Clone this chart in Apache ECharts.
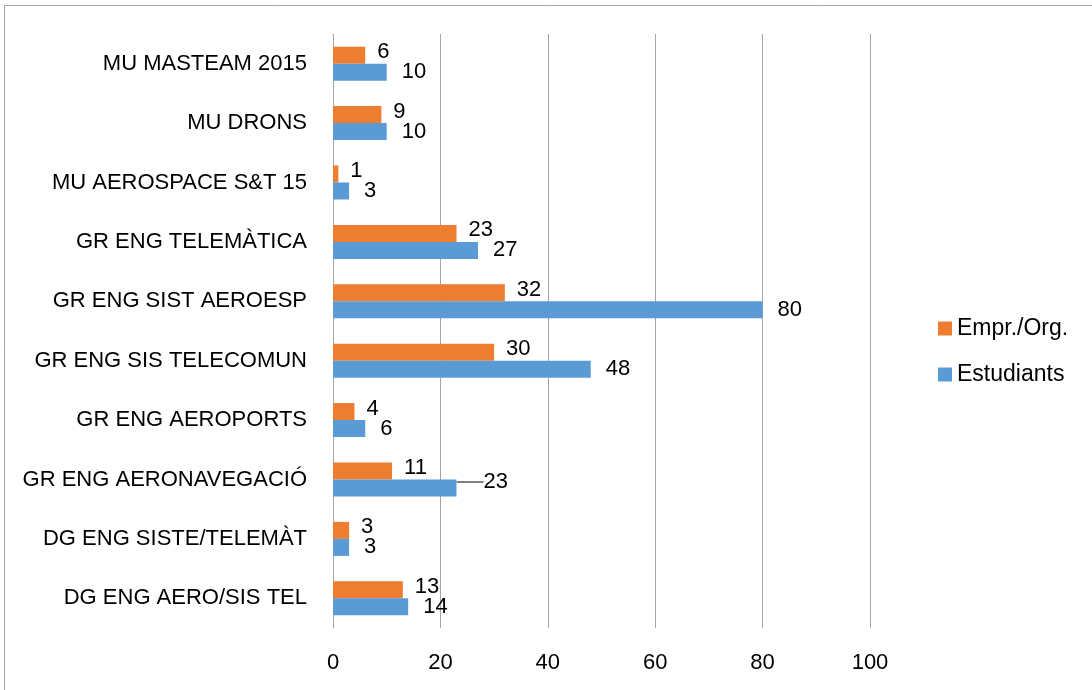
<!DOCTYPE html>
<html>
<head>
<meta charset="utf-8">
<script src="https://cdn.jsdelivr.net/npm/echarts@6/dist/echarts.min.js"></script>
<style>
  html, body { margin: 0; padding: 0; background: #fff; }
  #chart { width: 1092px; height: 690px; }
</style>
</head>
<body>
<div id="chart"></div>
<script>
// categories, bottom to top
const categories = [
  'DG ENG AERO/SIS TEL',
  'DG ENG SISTE/TELEMÀT',
  'GR ENG AERONAVEGACIÓ',
  'GR ENG AEROPORTS',
  'GR ENG SIS TELECOMUN',
  'GR ENG SIST AEROESP',
  'GR ENG TELEMÀTICA',
  'MU AEROSPACE S&T 15',
  'MU DRONS',
  'MU MASTEAM 2015'
];
const emprOrg = [13, 3, 11, 4, 30, 32, 23, 1, 9, 6];
const estudiants = [14, 3, 23, 6, 48, 80, 27, 3, 10, 10];
const xTicks = [0, 20, 40, 60, 80, 100];

const FONT = 'Liberation Sans';

const chart = echarts.init(document.getElementById('chart'));

function labelStyle(dy, dist) {
  return {
    show: true,
    position: 'right',
    distance: dist,
    offset: [0, dy],
    color: '#000',
    fontSize: 22,
    fontFamily: FONT
  };
}

// the label of GR ENG AERONAVEGACIÓ is pushed right with a leader line
const movedLabel = 2;
const estudiantsData = estudiants.map(function (v, i) {
  if (i === movedLabel) {
    return { value: v, labelLine: { show: true, lineStyle: { color: '#000', width: 1 } } };
  }
  return v;
});

chart.setOption({
  animation: false,
  textStyle: { fontFamily: FONT },
  graphic: [{
    type: 'rect',
    shape: { x: 4.5, y: 5.5, width: 1100, height: 700 },
    style: { fill: 'none', stroke: '#a6a6a6', lineWidth: 1 }
  }],
  grid: { left: 333, right: 222, top: 34, bottom: 62 },
  legend: {
    data: ['Empr./Org.', 'Estudiants'],
    orient: 'vertical',
    left: 933,
    top: 312,
    itemWidth: 14,
    itemHeight: 14,
    itemGap: 23,
    icon: 'rect',
    textStyle: { fontSize: 23, color: '#000', fontFamily: FONT, padding: [0, 0, 0, 0] }
  },
  xAxis: {
    type: 'value',
    min: xTicks[0],
    max: xTicks[xTicks.length - 1],
    interval: 20,
    axisLine: { show: false },
    axisTick: { show: false },
    axisLabel: { fontSize: 22, color: '#000', margin: 24, fontFamily: FONT },
    splitLine: { show: true, lineStyle: { color: '#a6a6a6', width: 1 } }
  },
  yAxis: {
    type: 'category',
    data: categories,
    axisLine: { show: true, lineStyle: { color: '#a6a6a6' } },
    axisTick: { show: false },
    axisLabel: { fontSize: 22, color: '#000', margin: 26, fontFamily: FONT }
  },
  series: [
    {
      name: 'Empr./Org.',
      type: 'bar',
      data: emprOrg,
      barWidth: 17,
      barGap: 0,
      itemStyle: { color: '#ed7d31' },
      label: labelStyle(-3, 12)
    },
    {
      name: 'Estudiants',
      type: 'bar',
      data: estudiantsData,
      barWidth: 17,
      barGap: 0,
      itemStyle: { color: '#5b9bd5' },
      label: labelStyle(3, 15),
      labelLine: { show: false },
      labelLayout: function (p) {
        if (p.dataIndex === movedLabel) {
          return { dx: 12, dy: -6 };
        }
        return {};
      }
    }
  ]
});

window.onresize = function () {
  chart.resize();
};
</script>
</body>
</html>
